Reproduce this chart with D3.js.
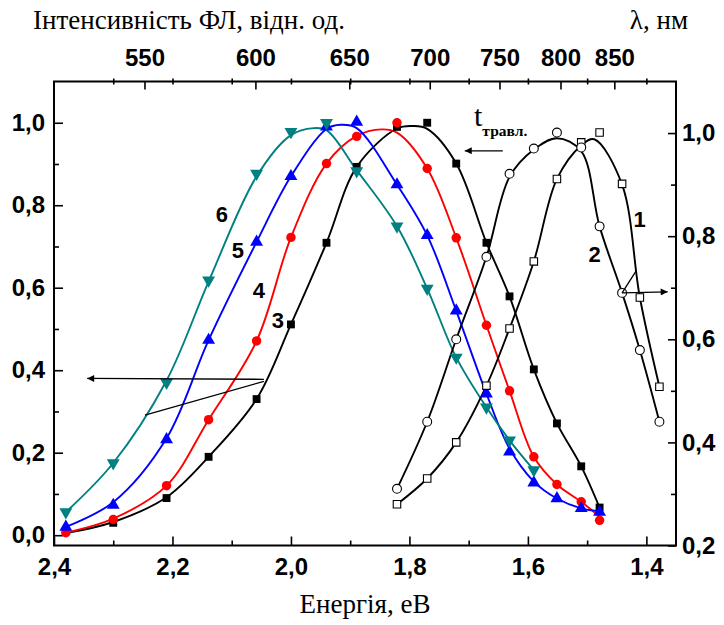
<!DOCTYPE html>
<html>
<head>
<meta charset="utf-8">
<title>Інтенсивність ФЛ</title>
<script src="https://cdnjs.cloudflare.com/ajax/libs/d3/7.8.5/d3.min.js"></script>
<style>
  body { margin: 0; background: #fff; }
  #chart svg { display: block; }
  .tick text { font-family: "Liberation Sans", Arial, sans-serif; font-weight: bold; font-size: 24px; fill: #000; }
  .tick line { stroke: #000; stroke-width: 1.6; }
  .serif { font-family: "Liberation Serif", "Times New Roman", serif; fill: #000; }
  .num { font-family: "Liberation Sans", Arial, sans-serif; font-weight: bold; font-size: 22px; fill: #000; }
</style>
</head>
<body>
<div id="chart"></div>
<script>
// axes
var energyTicks = [2.4, 2.2, 2.0, 1.8, 1.6, 1.4];
var energyMinor = [2.3, 2.1, 1.9, 1.7, 1.5];
var energySteps = [2.3, 2.2, 2.1, 2.0, 1.9, 1.8, 1.7, 1.6, 1.5, 1.4];
var leftTicks = [0, 0.2, 0.4, 0.6, 0.8, 1.0];
var leftMinor = [0.1, 0.3, 0.5, 0.7, 0.9];
var rightTicks = [0.2, 0.4, 0.6, 0.8, 1.0];
var rightMinor = [0.3, 0.5, 0.7, 0.9];
var wavelengths = [550, 600, 650, 700, 750, 800, 850];
var hc = 1236; // eV*nm, as the top scale was laid out

// measured points (energy, eV)
var energyA = [2.38, 2.30, 2.21, 2.139, 2.058, 2.00, 1.94, 1.889, 1.821, 1.77, 1.721, 1.67, 1.631, 1.59, 1.551, 1.51, 1.479];
var energyB = [1.821, 1.77, 1.721, 1.67, 1.631, 1.59, 1.551, 1.51, 1.479, 1.441, 1.411, 1.378];

// curves 3-6, left axis
var mark3 = [0.01, 0.03, 0.09, 0.19, 0.33, 0.511, 0.709, 0.893, 0.99, 1.0, 0.901, 0.709, 0.579, 0.402, 0.271, 0.167, 0.067];
var mark4 = [0.006, 0.038, 0.12, 0.28, 0.471, 0.722, 0.901, 0.967, 1.0, 0.889, 0.721, 0.509, 0.35, 0.19, 0.123, 0.081, 0.036];
var mark5 = [0.02, 0.073, 0.232, 0.473, 0.711, 0.87, 0.99, 1.002, 0.85, 0.727, 0.544, 0.343, 0.202, 0.127, 0.089, 0.065, 0.056];
var mark6 = [0.056, 0.175, 0.37, 0.618, 0.877, 0.978, 1.0, 0.883, 0.749, 0.598, 0.431, 0.31, 0.23, 0.158];
// curves 1-2, right axis
var mark1 = [0.28, 0.33, 0.40, 0.51, 0.621, 0.751, 0.911, 0.982, 1.001, 0.9015, 0.681, 0.508];
var mark2 = [0.31, 0.44, 0.60, 0.76, 0.921, 0.97, 1.001, 0.972, 0.819, 0.69, 0.579, 0.44];

// smoothed lines as drawn in the figure
var fitE3 = [2.38, 2.30, 2.21, 2.139, 2.058, 2.00, 1.94, 1.889, 1.821, 1.794, 1.77, 1.721, 1.67, 1.631, 1.59, 1.551, 1.51, 1.479];
var fit3 = [0.005, 0.032, 0.092, 0.19, 0.33, 0.511, 0.709, 0.893, 0.986, 0.992, 0.985, 0.901, 0.709, 0.579, 0.402, 0.271, 0.167, 0.067];
var fitE4 = [2.38, 2.30, 2.21, 2.139, 2.058, 2.00, 1.94, 1.889, 1.847, 1.821, 1.77, 1.721, 1.67, 1.631, 1.59, 1.551, 1.51, 1.479];
var fit4 = [0.006, 0.04, 0.12, 0.28, 0.471, 0.722, 0.901, 0.968, 0.984, 0.976, 0.889, 0.721, 0.509, 0.35, 0.19, 0.123, 0.081, 0.045];
var fitE5 = [2.38, 2.30, 2.21, 2.139, 2.058, 2.00, 1.94, 1.916, 1.889, 1.821, 1.77, 1.721, 1.67, 1.631, 1.59, 1.551, 1.51, 1.479];
var fit5 = [0.02, 0.08, 0.235, 0.473, 0.711, 0.87, 0.985, 0.995, 0.987, 0.85, 0.727, 0.544, 0.343, 0.21, 0.13, 0.089, 0.065, 0.058];
var fitE6 = [2.38, 2.30, 2.21, 2.139, 2.058, 2.00, 1.962, 1.94, 1.889, 1.821, 1.77, 1.721, 1.67, 1.631, 1.59];
var fit6 = [0.056, 0.175, 0.375, 0.615, 0.87, 0.97, 0.987, 0.982, 0.885, 0.749, 0.598, 0.431, 0.31, 0.23, 0.158];
var fitE1 = [1.821, 1.77, 1.721, 1.67, 1.631, 1.59, 1.551, 1.51, 1.488, 1.441, 1.411, 1.378];
var fit1 = [0.28, 0.33, 0.40, 0.51, 0.621, 0.751, 0.911, 0.976, 0.988, 0.90, 0.681, 0.508];
var fitE2 = [1.821, 1.77, 1.721, 1.67, 1.631, 1.59, 1.551, 1.51, 1.479, 1.441, 1.411, 1.378];
var fit2 = [0.31, 0.44, 0.60, 0.76, 0.915, 0.968, 0.99, 0.965, 0.819, 0.69, 0.579, 0.44];

var chart = {

  width: 724,
  height: 625,
  left: 54,
  right: 676,
  top: 81.5,
  bottom: 545.5,

  init: function () {
    var that = this;
    this.svg = d3.select("#chart").append("svg")
      .attr("width", this.width)
      .attr("height", this.height);

    this.x = d3.scaleLinear().domain([2.4, 1.35]).range([this.left, this.right]);
    this.yL = d3.scaleLinear().domain([-0.025, 1.1]).range([this.bottom, this.top]);
    this.yR = d3.scaleLinear().domain([0.2, 1.1]).range([this.bottom, this.top]);

    this.svg.append("marker")
      .attr("id", "arrowHead")
      .attr("viewBox", "0 0 10 10")
      .attr("refX", "10")
      .attr("refY", "5")
      .attr("markerUnits", "userSpaceOnUse")
      .attr("markerWidth", "12")
      .attr("markerHeight", "7")
      .attr("orient", "auto")
      .append("path")
      .attr("d", "M 0 0 L 10 5 L 0 10 z");

    this.series = [
      {label: "3", e: energyA, v: mark3, fe: fitE3, fv: fit3, color: "#000000", sym: "square", y: that.yL},
      {label: "4", e: energyA, v: mark4, fe: fitE4, fv: fit4, color: "#ff0000", sym: "circle", y: that.yL},
      {label: "5", e: energyA, v: mark5, fe: fitE5, fv: fit5, color: "#0000ff", sym: "up", y: that.yL},
      {label: "6", e: energyA.slice(0, mark6.length), v: mark6, fe: fitE6, fv: fit6, color: "#008080", sym: "down", y: that.yL},
      {label: "1", e: energyB, v: mark1, fe: fitE1, fv: fit1, color: "#000000", sym: "openSquare", y: that.yR},
      {label: "2", e: energyB, v: mark2, fe: fitE2, fv: fit2, color: "#000000", sym: "openCircle", y: that.yR}
    ];
  },

  fmt: function (d) {
    return d3.format(".1f")(d).replace(".", ",");
  },

  drawAxes: function () {
    var svg = this.svg, x = this.x, that = this;

    svg.append("g")
      .attr("transform", "translate(0," + this.bottom + ")")
      .call(d3.axisBottom(x).tickValues(energyTicks).tickSizeInner(-9).tickSizeOuter(0).tickPadding(12).tickFormat(this.fmt))
      .call(function (g) { g.select(".domain").remove(); });
    svg.append("g")
      .attr("transform", "translate(0," + this.bottom + ")")
      .call(d3.axisBottom(x).tickValues(energyMinor).tickSizeInner(-5).tickSizeOuter(0).tickFormat(""))
      .call(function (g) { g.select(".domain").remove(); });

    svg.append("g")
      .attr("transform", "translate(" + this.left + ",0)")
      .call(d3.axisLeft(this.yL).tickValues(leftTicks).tickSizeInner(-9).tickSizeOuter(0).tickPadding(9).tickFormat(this.fmt))
      .call(function (g) { g.select(".domain").remove(); });
    svg.append("g")
      .attr("transform", "translate(" + this.left + ",0)")
      .call(d3.axisLeft(this.yL).tickValues(leftMinor).tickSizeInner(-5).tickSizeOuter(0).tickFormat(""))
      .call(function (g) { g.select(".domain").remove(); });

    svg.append("g")
      .attr("transform", "translate(" + this.right + ",0)")
      .call(d3.axisRight(this.yR).tickValues(rightTicks).tickSizeInner(-8).tickSizeOuter(0).tickPadding(6).tickFormat(this.fmt))
      .call(function (g) { g.select(".domain").remove(); });
    svg.append("g")
      .attr("transform", "translate(" + this.right + ",0)")
      .call(d3.axisRight(this.yR).tickValues(rightMinor).tickSizeInner(-5).tickSizeOuter(0).tickFormat(""))
      .call(function (g) { g.select(".domain").remove(); });

    // wavelength scale on top
    svg.append("g")
      .attr("transform", "translate(0," + this.top + ")")
      .call(d3.axisTop(x).tickValues(wavelengths.map(function (l) { return hc / l; }))
        .tickSizeInner(-8).tickSizeOuter(0).tickPadding(15.5)
        .tickFormat(function (e) { return Math.round(hc / e); }))
      .call(function (g) { g.select(".domain").remove(); });
    svg.append("g")
      .attr("transform", "translate(0," + this.top + ")")
      .call(d3.axisTop(x).tickValues(energySteps).tickSize(3).tickSizeOuter(0).tickFormat(""))
      .call(function (g) {
        g.select(".domain").remove();
        g.selectAll(".tick line").attr("y1", 3);
      });

    svg.append("rect")
      .attr("x", this.left)
      .attr("y", this.top)
      .attr("width", this.right - this.left)
      .attr("height", this.bottom - this.top)
      .attr("fill", "none")
      .attr("stroke", "#000")
      .attr("stroke-width", 2);
  },

  symbolPath: function (sym) {
    if (sym == "square") return d3.symbol().type(d3.symbolSquare).size(62)();
    if (sym == "circle") return d3.symbol().type(d3.symbolCircle).size(70)();
    if (sym == "up" || sym == "down") return d3.symbol().type(d3.symbolTriangle).size(72)();
    if (sym == "openSquare") return d3.symbol().type(d3.symbolSquare).size(56)();
    return d3.symbol().type(d3.symbolCircle).size(62)();
  },

  render: function () {
    var svg = this.svg, x = this.x, that = this;

    this.series.forEach(function (s) {
      var pts = s.fe.map(function (e, i) { return [e, s.fv[i]]; });
      var line = d3.line()
        .x(function (d) { return x(d[0]); })
        .y(function (d) { return s.y(d[1]); })
        .curve(d3.curveCatmullRom.alpha(0.5));
      svg.append("path")
        .datum(pts)
        .attr("d", line)
        .attr("fill", "none")
        .attr("stroke", s.color)
        .attr("stroke-width", 1.9);
    });

    this.series.forEach(function (s) {
      var open = s.sym.indexOf("open") == 0;
      var pts = s.e.map(function (e, i) { return [e, s.v[i]]; });
      svg.append("g").selectAll("path")
        .data(pts)
        .enter().append("path")
        .attr("d", that.symbolPath(s.sym))
        .attr("transform", function (d) {
          return "translate(" + x(d[0]) + "," + s.y(d[1]) + ")" + (s.sym == "down" ? " rotate(180)" : "");
        })
        .attr("fill", open ? "#fff" : s.color)
        .attr("stroke", open ? "#000" : "none")
        .attr("stroke-width", 1.1);
    });
  },

  annotate: function () {
    var svg = this.svg, x = this.x, yL = this.yL, yR = this.yR;

    // arrow to the left axis for curves 3-6
    svg.append("line")
      .attr("x1", x(2.0457)).attr("y1", yL(0.378))
      .attr("x2", x(2.344)).attr("y2", yL(0.38))
      .attr("stroke", "#000").attr("stroke-width", 1.3)
      .attr("marker-end", "url(#arrowHead)");
    svg.append("line")
      .attr("x1", x(2.0457)).attr("y1", yL(0.373))
      .attr("x2", x(2.2465)).attr("y2", yL(0.291))
      .attr("stroke", "#000").attr("stroke-width", 1.3);

    // arrow to the right axis for curves 1-2
    svg.append("line")
      .attr("x1", x(1.441)).attr("y1", yR(0.69))
      .attr("x2", x(1.364)).attr("y2", yR(0.692))
      .attr("stroke", "#000").attr("stroke-width", 1.3)
      .attr("marker-end", "url(#arrowHead)");
    svg.append("line")
      .attr("x1", x(1.441)).attr("y1", yR(0.69))
      .attr("x2", x(1.417)).attr("y2", yR(0.733))
      .attr("stroke", "#000").attr("stroke-width", 1.3);

    // etching time direction
    svg.append("line")
      .attr("x1", x(1.6424)).attr("y1", yL(0.932))
      .attr("x2", x(1.7066)).attr("y2", yL(0.932))
      .attr("stroke", "#000").attr("stroke-width", 1.3)
      .attr("marker-end", "url(#arrowHead)");
    var t = svg.append("text").attr("class", "serif")
      .attr("x", 474).attr("y", 126);
    t.append("tspan").attr("font-size", 30).text("t");
    t.append("tspan").attr("font-size", 15.5).attr("font-weight", "bold").attr("dx", 0).attr("dy", 10).text("травл.");

    // curve numbers
    var labels = [
      {n: "6", e: 2.1166, v: 0.778, y: yL},
      {n: "5", e: 2.0896, v: 0.691, y: yL},
      {n: "4", e: 2.054, v: 0.594, y: yL},
      {n: "3", e: 2.022, v: 0.521, y: yL},
      {n: "1", e: 1.4113, v: 0.8336, y: yR},
      {n: "2", e: 1.4872, v: 0.7657, y: yR}
    ];
    svg.append("g").selectAll("text")
      .data(labels)
      .enter().append("text")
      .attr("class", "num")
      .attr("x", function (d) { return x(d.e); })
      .attr("y", function (d) { return d.y(d.v); })
      .attr("text-anchor", "middle")
      .attr("dy", "0.36em")
      .text(function (d) { return d.n; });

    // titles
    svg.append("text").attr("class", "serif")
      .attr("x", 33).attr("y", 29).attr("font-size", 27)
      .text("Інтенсивність ФЛ, відн. од.");
    svg.append("text").attr("class", "serif")
      .attr("x", 688).attr("y", 29).attr("font-size", 27)
      .attr("text-anchor", "end")
      .text("λ, нм");
    svg.append("text").attr("class", "serif")
      .attr("x", (this.left + this.right) / 2).attr("y", 613).attr("font-size", 27)
      .attr("text-anchor", "middle")
      .text("Енергія, еВ");
  }
};

chart.init();
chart.drawAxes();
chart.render();
chart.annotate();
</script>
</body>
</html>
